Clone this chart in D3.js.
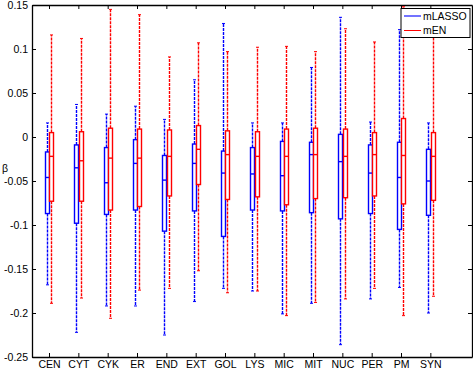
<!DOCTYPE html>
<html>
<head>
<meta charset="utf-8">
<script src="https://cdn.jsdelivr.net/npm/d3@7"></script>
<style>
  html, body { margin: 0; padding: 0; background: #fff; }
  svg { display: block; }
  .axis text { font-family: 'Liberation Sans', Arial, sans-serif; font-size: 10.5px; fill: #000; }
  .axis path, .axis line { stroke: #000; }
</style>
</head>
<body>
<div id="chart"></div>
<script>
const cats = ['CEN', 'CYT', 'CYK', 'ER', 'END', 'EXT', 'GOL', 'LYS', 'MIC', 'MIT', 'NUC', 'PER', 'PM', 'SYN'];

// mLASSO: whisker top, upper quartile, median, lower quartile, whisker bottom
const lassoHi  = [0.016, 0.037, 0.026, 0.035, 0.020, 0.065, 0.129, 0.016, 0.016, 0.079, 0.136, 0.017, 0.122, 0.016];
const lassoQ3  = [-0.017, -0.009, -0.012, -0.003, -0.021, -0.008, -0.016, -0.012, -0.005, -0.006, 0.003, -0.009, -0.006, -0.014];
const lassoMed = [-0.046, -0.035, -0.052, -0.030, -0.049, -0.030, -0.041, -0.042, -0.044, -0.020, -0.028, -0.041, -0.046, -0.050];
const lassoQ1  = [-0.087, -0.098, -0.088, -0.083, -0.107, -0.084, -0.113, -0.083, -0.084, -0.086, -0.093, -0.087, -0.105, -0.089];
const lassoLo  = [-0.168, -0.222, -0.192, -0.192, -0.225, -0.187, -0.172, -0.175, -0.201, -0.189, -0.236, -0.184, -0.171, -0.200];

// mEN
const enHi  = [0.116, 0.112, 0.145, 0.139, 0.091, 0.107, 0.097, 0.102, 0.103, 0.097, 0.123, 0.108, 0.148, 0.125];
const enQ3  = [0.005, 0.006, 0.010, 0.009, 0.008, 0.013, 0.007, 0.006, 0.009, 0.010, 0.009, 0.005, 0.021, 0.005];
const enMed = [-0.022, -0.027, -0.024, -0.024, -0.022, -0.014, -0.020, -0.022, -0.022, -0.020, -0.022, -0.020, -0.021, -0.022];
const enQ1  = [-0.073, -0.073, -0.083, -0.079, -0.067, -0.054, -0.071, -0.068, -0.077, -0.070, -0.069, -0.067, -0.076, -0.072];
const enLo  = [-0.189, -0.183, -0.206, -0.174, -0.172, -0.152, -0.177, -0.175, -0.203, -0.188, -0.184, -0.172, -0.203, -0.181];

const yTicks = [-0.25, -0.2, -0.15, -0.1, -0.05, 0, 0.05, 0.1, 0.15];
const legendNames = ['mLASSO', 'mEN'];

const W = 473, H = 369;
const L = 32, R = 472, T = 5, B = 357;

const svg = d3.select('#chart').append('svg')
  .attr('width', W).attr('height', H);

const x = d3.scaleLinear().domain([0.42, 15.42]).range([L, R]);
const y = d3.scaleLinear().domain([-0.25, 0.15]).range([B, T]);

const fmt = d => String(+d.toFixed(2));
const idx = cats.map((_, i) => i + 1);

// frame + ticks (MATLAB style: ticks point inwards)
svg.append('g').attr('class', 'axis').attr('transform', `translate(${L},0)`)
  .call(d3.axisLeft(y).tickValues(yTicks).tickFormat(fmt).tickSizeInner(-4).tickSizeOuter(0).tickPadding(4));
svg.append('g').attr('class', 'axis').attr('transform', `translate(${R},0)`)
  .call(d3.axisRight(y).tickValues(yTicks).tickFormat('').tickSizeInner(-4).tickSizeOuter(0));
svg.append('g').attr('class', 'axis').attr('transform', `translate(0,${B})`)
  .call(d3.axisBottom(x).tickValues(idx).tickFormat(i => cats[i - 1]).tickSizeInner(-4).tickSizeOuter(0).tickPadding(4));
svg.append('g').attr('class', 'axis').attr('transform', `translate(0,${T})`)
  .call(d3.axisTop(x).tickValues(idx).tickFormat('').tickSizeInner(-4).tickSizeOuter(0));
svg.selectAll('.axis .domain').attr('stroke', '#444').attr('stroke-width', 1.3);

svg.append('text')
  .attr('x', 2).attr('y', 172)
  .style('font-family', "'Liberation Sans', Arial, sans-serif").style('font-size', '10.5px')
  .text('\u03b2');

const series = [
  { name: 'mLASSO', color: '#0000ff', off: -0.074, hi: lassoHi, q3: lassoQ3, med: lassoMed, q1: lassoQ1, lo: lassoLo },
  { name: 'mEN',    color: '#ff0000', off:  0.074, hi: enHi,    q3: enQ3,    med: enMed,    q1: enQ1,    lo: enLo }
];
const bw = 4;
const cap = 3;

series.forEach(s => {
  const g = svg.append('g');
  cats.forEach((c, i) => {
    const cx = Math.round(x(i + 1 + s.off)) + 0.5;
    const hi = s.hi[i], q3 = s.q3[i], md = s.med[i], q1 = s.q1[i], lo = s.lo[i];
    // whiskers
    g.append('line').attr('x1', cx).attr('x2', cx).attr('y1', y(q3)).attr('y2', y(hi))
      .attr('stroke', s.color).attr('stroke-width', 1.4).attr('stroke-dasharray', '3,1');
    g.append('line').attr('x1', cx).attr('x2', cx).attr('y1', y(q1)).attr('y2', y(lo))
      .attr('stroke', s.color).attr('stroke-width', 1.4).attr('stroke-dasharray', '3,1');
    g.append('line').attr('x1', cx - cap / 2).attr('x2', cx + cap / 2).attr('y1', y(hi)).attr('y2', y(hi))
      .attr('stroke', s.color).attr('stroke-width', 1);
    g.append('line').attr('x1', cx - cap / 2).attr('x2', cx + cap / 2).attr('y1', y(lo)).attr('y2', y(lo))
      .attr('stroke', s.color).attr('stroke-width', 1);
    // box
    g.append('rect')
      .attr('x', cx - bw / 2).attr('y', y(q3))
      .attr('width', bw).attr('height', y(q1) - y(q3))
      .attr('fill', '#fff').attr('stroke', s.color).attr('stroke-width', 1.4);
    // median
    g.append('line').attr('x1', cx - bw / 2).attr('x2', cx + bw / 2).attr('y1', y(md)).attr('y2', y(md))
      .attr('stroke', s.color).attr('stroke-width', 1.4);
  });
});

// legend
const lg = svg.append('g').attr('transform', 'translate(401,8.5)');
lg.append('rect').attr('width', 69).attr('height', 29)
  .attr('fill', '#fff').attr('stroke', '#000').attr('stroke-width', 1);
legendNames.forEach((n, i) => {
  const s = series[i];
  const ly = 7.5 + i * 14.5;
  lg.append('line').attr('x1', 3).attr('x2', 20).attr('y1', ly).attr('y2', ly)
    .attr('stroke', s.color).attr('stroke-width', i === 0 ? 2 : 1).attr('stroke-opacity', i === 0 ? 0.55 : 1);
  lg.append('text').attr('x', 22).attr('y', ly + 3.8)
    .style('font-family', "'Liberation Sans', Arial, sans-serif").style('font-size', '10.5px')
    .text(n);
});
</script>
</body>
</html>
